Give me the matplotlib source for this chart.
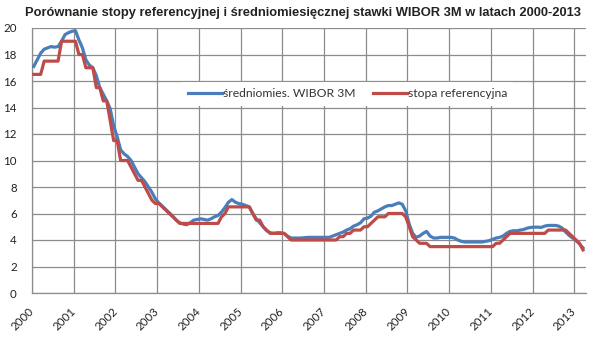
import matplotlib
matplotlib.use("Agg")
import matplotlib.pyplot as plt
import matplotlib.transforms as mtransforms
import numpy as np

title = "Porównanie stopy referencyjnej i średniomiesięcznej stawki WIBOR 3M w latach 2000-2013"
series_names = ["średniomies. WIBOR 3M", "stopa referencyjna"]
years = list(range(2000, 2014))
y_ticks = list(range(0, 21, 2))

# monthly values Jan 2000 .. Mar 2013
wibor = [
    17.1, 17.6, 18.1, 18.4, 18.5, 18.6, 18.55, 18.6, 19.0, 19.5, 19.65, 19.75,   # 2000
    19.8, 19.1, 18.5, 17.6, 17.2, 17.0, 16.4, 15.5, 15.0, 14.5, 13.9, 12.6,     # 2001
    11.8, 10.8, 10.5, 10.3, 10.0, 9.5, 9.0, 8.7, 8.4, 8.0, 7.6, 7.1,            # 2002
    6.8, 6.55, 6.3, 6.05, 5.8, 5.5, 5.3, 5.2, 5.15, 5.3, 5.5, 5.55,             # 2003
    5.6, 5.55, 5.5, 5.6, 5.75, 5.85, 6.1, 6.45, 6.85, 7.05, 6.85, 6.75,         # 2004
    6.7, 6.6, 6.5, 6.0, 5.6, 5.3, 5.0, 4.7, 4.55, 4.5, 4.55, 4.55,             # 2005
    4.5, 4.3, 4.15, 4.15, 4.15, 4.15, 4.18, 4.2, 4.2, 4.2, 4.2, 4.2,           # 2006
    4.2, 4.2, 4.3, 4.4, 4.5, 4.6, 4.75, 4.85, 5.05, 5.15, 5.3, 5.6,            # 2007
    5.65, 5.8, 6.1, 6.2, 6.35, 6.5, 6.6, 6.6, 6.7, 6.8, 6.7, 6.2,              # 2008
    5.2, 4.5, 4.2, 4.3, 4.5, 4.65, 4.3, 4.15, 4.15, 4.2, 4.2, 4.2,             # 2009
    4.2, 4.15, 4.0, 3.9, 3.85, 3.85, 3.85, 3.85, 3.85, 3.85, 3.9, 3.95,        # 2010
    4.05, 4.15, 4.2, 4.3, 4.5, 4.65, 4.7, 4.7, 4.75, 4.8, 4.9, 4.95,           # 2011
    4.97, 4.97, 4.95, 5.05, 5.1, 5.1, 5.1, 5.05, 4.9, 4.6, 4.35, 4.15,         # 2012
    3.95, 3.7, 3.4,                                                            # 2013
]
ref_rate = [
    16.5, 16.5, 16.5, 17.5, 17.5, 17.5, 17.5, 17.5, 19, 19, 19, 19,            # 2000
    19, 18, 18, 17, 17, 17, 15.5, 15.5, 14.5, 14.5, 13, 11.5,                  # 2001
    11.5, 10, 10, 10, 9.5, 9, 8.5, 8.5, 8, 7.5, 7, 6.75,                       # 2002
    6.75, 6.5, 6.25, 6, 5.75, 5.5, 5.25, 5.25, 5.25, 5.25, 5.25, 5.25,         # 2003
    5.25, 5.25, 5.25, 5.25, 5.25, 5.25, 5.75, 6, 6.5, 6.5, 6.5, 6.5,           # 2004
    6.5, 6.5, 6.5, 6, 5.5, 5.5, 5, 4.75, 4.5, 4.5, 4.5, 4.5,                   # 2005
    4.5, 4.25, 4, 4, 4, 4, 4, 4, 4, 4, 4, 4,                                   # 2006
    4, 4, 4, 4, 4.25, 4.25, 4.5, 4.5, 4.75, 4.75, 4.75, 5,                     # 2007
    5, 5.25, 5.5, 5.75, 5.75, 5.75, 6, 6, 6, 6, 6, 5.75,                       # 2008
    5, 4.25, 4, 3.75, 3.75, 3.75, 3.5, 3.5, 3.5, 3.5, 3.5, 3.5,                # 2009
    3.5, 3.5, 3.5, 3.5, 3.5, 3.5, 3.5, 3.5, 3.5, 3.5, 3.5, 3.5,                # 2010
    3.5, 3.75, 3.75, 4, 4.25, 4.5, 4.5, 4.5, 4.5, 4.5, 4.5, 4.5,               # 2011
    4.5, 4.5, 4.5, 4.5, 4.75, 4.75, 4.75, 4.75, 4.75, 4.75, 4.5, 4.25,         # 2012
    4.0, 3.75, 3.25,                                                           # 2013
]

x = 2000 + (np.arange(len(wibor)) + 0.5) / 12.0

plt.rcParams['font.family'] = ['Lato', 'DejaVu Sans']

fig = plt.figure(figsize=(6.0, 3.39), dpi=100)
ax = fig.add_axes([32/600, 1 - 293/339, (586-32)/600, (293-28)/339])

grid_c = '#8c8c8c'
ax.plot(x, wibor, color='#4A7EBB', lw=2.3, label=series_names[0], solid_joinstyle='round', zorder=3)
ax.plot(x, ref_rate, color='#BE4B48', lw=2.3, label=series_names[1], solid_joinstyle='round', zorder=4)

ax.set_xlim(2000, 2000 + 159/12.0 + 0.03)
ax.set_ylim(0, 20)
ax.set_xticks(years)
ax.set_xticklabels([str(y) for y in years], rotation=45, ha='right', fontsize=8.3, color='#222222')
ax.set_yticks(y_ticks)
ax.set_yticklabels([str(v) for v in y_ticks], fontsize=8.3, color='#222222')
ax.tick_params(axis='both', length=0)
ax.tick_params(axis='y', pad=11)
ax.tick_params(axis='x', pad=9)
shift = mtransforms.ScaledTranslation(4/100, 0, fig.dpi_scale_trans)
for lbl in ax.get_xticklabels():
    lbl.set_transform(lbl.get_transform() + shift)
ax.grid(True, color=grid_c, lw=0.9)
ax.set_axisbelow(True)
for s in ['top', 'right']:
    ax.spines[s].set_visible(False)
for s in ['left', 'bottom']:
    ax.spines[s].set_color(grid_c)
    ax.spines[s].set_linewidth(0.9)

leg = ax.legend(loc='center', bbox_to_anchor=(0.57, 0.751), ncol=2, frameon=True,
                fontsize=8.7, handlelength=2.8, handletextpad=0.1, columnspacing=1.4,
                borderpad=0.5, fancybox=False)
leg.get_frame().set_edgecolor('none')
leg.get_frame().set_facecolor('white')
leg.get_frame().set_alpha(1)
for t in leg.get_texts():
    t.set_color('#333333')

fig.text(0.505, 0.962, title, ha='center', va='center', fontsize=9.3, fontweight='bold',
         family=['Liberation Sans Narrow', 'Liberation Sans', 'DejaVu Sans'], color='#222222')

fig.savefig('out.png', dpi=100)
